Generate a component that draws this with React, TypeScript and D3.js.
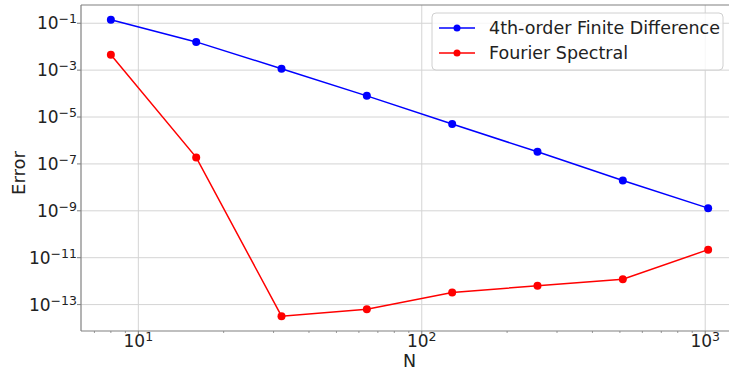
import * as d3 from 'd3';

// Grid sizes and measured errors
const nValues = [8, 16, 32, 64, 128, 256, 512, 1024];
const fdError = [1.4e-1, 1.6e-2, 1.15e-3, 8e-5, 5e-6, 3.3e-7, 1.95e-8, 1.3e-9];
const spectralError = [4.5e-3, 1.9e-7, 3.2e-14, 6.3e-14, 3.3e-13, 6.3e-13, 1.2e-12, 2.2e-11];

const xTickExps = [1, 2, 3];
const yTickExps = [-1, -3, -5, -7, -9, -11, -13];
const seriesNames = ['4th-order Finite Difference', 'Fourier Spectral'];

const width = 729;
const height = 370;
const plot = { left: 81, right: 738, top: 5, bottom: 331 };
const font = 'DejaVu Sans, sans-serif';
const gridColor = '#d4d4d4';
const spineColor = '#808080';

// matplotlib-style 5% margin in log space
const padLog = (vals: number[]) => {
  const lo = Math.log10(d3.min(vals) as number);
  const hi = Math.log10(d3.max(vals) as number);
  const p = (hi - lo) * 0.05;
  return [Math.pow(10, lo - p), Math.pow(10, hi + p)];
};

const Power = ({ exp, x, y, anchor }: { exp: number; x: number; y: number; anchor: string }) => (
  <text x={x} y={y} fontSize={17} fontFamily={font} fill="#222" textAnchor={anchor}>
    10
    <tspan dy={-6} fontSize={12.5}>
      {exp < 0 ? `\u2212${-exp}` : `${exp}`}
    </tspan>
  </text>
);

const App = () => {
  const x = d3.scaleLog().domain(padLog(nValues)).range([plot.left, plot.right]);
  const y = d3
    .scaleLog()
    .domain(padLog([...fdError, ...spectralError]))
    .range([plot.bottom, plot.top]);

  const [x0, x1] = x.domain();
  const minorX: number[] = [];
  for (let e = 0; e <= 3; e++) {
    for (let m = 2; m <= 9; m++) {
      const v = m * Math.pow(10, e);
      if (v >= x0 && v <= x1) minorX.push(v);
    }
  }

  const line = d3
    .line<number>()
    .x((_, i) => x(nValues[i]))
    .y((d) => y(d));

  const series = [
    { name: seriesNames[0], data: fdError, color: '#0000ff' },
    { name: seriesNames[1], data: spectralError, color: '#ff0000' },
  ];

  return (
    <svg
      width={width}
      height={height}
      style={{ position: 'absolute', left: 0, top: 0, background: '#fff' }}
    >
      <defs>
        <clipPath id="plot-clip">
          <rect x={plot.left} y={plot.top} width={plot.right - plot.left} height={plot.bottom - plot.top} />
        </clipPath>
      </defs>

      {/* Grid */}
      {xTickExps.map((e) => (
        <line key={`gx${e}`} x1={x(10 ** e)} x2={x(10 ** e)} y1={plot.top} y2={plot.bottom} stroke={gridColor} strokeWidth={1} />
      ))}
      {yTickExps.map((e) => (
        <line key={`gy${e}`} x1={plot.left} x2={plot.right} y1={y(10 ** e)} y2={y(10 ** e)} stroke={gridColor} strokeWidth={1} />
      ))}

      {/* Series */}
      <g clipPath="url(#plot-clip)">
        {series.map((s) => (
          <g key={s.name}>
            <path d={line(s.data) || ''} fill="none" stroke={s.color} strokeWidth={1.5} />
            {s.data.map((d, i) => (
              <circle key={i} cx={x(nValues[i])} cy={y(d)} r={4} fill={s.color} />
            ))}
          </g>
        ))}
      </g>

      {/* Spines */}
      <line x1={plot.left} x2={plot.left} y1={plot.top} y2={plot.bottom} stroke={spineColor} strokeWidth={1.2} />
      <line x1={plot.left} x2={plot.right} y1={plot.bottom} y2={plot.bottom} stroke={spineColor} strokeWidth={1.2} />
      <line x1={plot.left} x2={plot.right} y1={plot.top} y2={plot.top} stroke={spineColor} strokeWidth={1.2} />

      {/* X ticks */}
      {minorX.map((v) => (
        <line key={`mx${v}`} x1={x(v)} x2={x(v)} y1={plot.bottom} y2={plot.bottom + 2} stroke={spineColor} strokeWidth={0.8} />
      ))}
      {xTickExps.map((e) => (
        <g key={`tx${e}`}>
          <line x1={x(10 ** e)} x2={x(10 ** e)} y1={plot.bottom} y2={plot.bottom + 4} stroke={spineColor} strokeWidth={1} />
          <Power exp={e} x={x(10 ** e)} y={347} anchor="middle" />
        </g>
      ))}

      {/* Y ticks */}
      {yTickExps.map((e) => (
        <g key={`ty${e}`}>
          <line x1={plot.left - 4} x2={plot.left} y1={y(10 ** e)} y2={y(10 ** e)} stroke={spineColor} strokeWidth={1} />
          <Power exp={e} x={77} y={y(10 ** e) + 6} anchor="end" />
        </g>
      ))}

      {/* Axis labels */}
      <text x={(plot.left + plot.right) / 2} y={367} fontSize={17.5} fontFamily={font} fill="#222" textAnchor="middle">
        N
      </text>
      <text
        transform={`translate(25, ${(plot.top + plot.bottom) / 2 + 5}) rotate(-90)`}
        fontSize={18}
        fontFamily={font}
        fill="#222"
        textAnchor="middle"
      >
        Error
      </text>

      {/* Legend */}
      <g>
        <rect x={432} y={13} width={291} height={57} rx={4} fill="#fff" fillOpacity={0.8} stroke="#d0d0d0" strokeWidth={1} />
        {series.map((s, i) => {
          const cy = 28 + i * 25;
          return (
            <g key={`lg${s.name}`}>
              <line x1={439} x2={475} y1={cy} y2={cy} stroke={s.color} strokeWidth={1.5} />
              <circle cx={457} cy={cy} r={3.5} fill={s.color} />
              <text x={489} y={cy + 6} fontSize={17.5} fontFamily={font} fill="#222">
                {s.name}
              </text>
            </g>
          );
        })}
      </g>
    </svg>
  );
};

export default App;
